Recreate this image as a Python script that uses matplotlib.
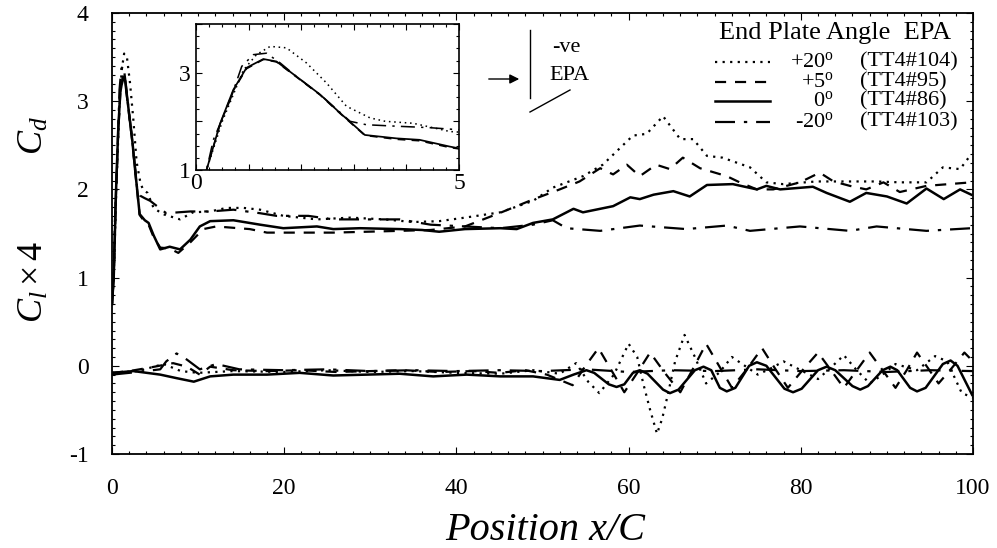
import matplotlib
matplotlib.use("Agg")
import matplotlib.pyplot as plt
from matplotlib.ticker import MultipleLocator
from matplotlib.lines import Line2D

plt.rcParams['font.family'] = ['Liberation Serif', 'DejaVu Serif']
plt.rcParams['mathtext.fontset'] = 'custom'
plt.rcParams['mathtext.rm'] = 'Liberation Serif'
plt.rcParams['mathtext.it'] = 'Liberation Serif:italic'
plt.rcParams['axes.unicode_minus'] = False

# ---------------- data ----------------
# Drag coefficient Cd
cd_x_p20 = [0, 0.2, 0.5, 0.9, 1.15, 1.41, 1.72, 2.1, 2.48, 2.86, 3.31, 3.6, 4.13, 4.83, 5.9, 7.9, 9.4,
            11.4, 13.3, 15.3, 17.2, 19.9, 23.8, 27.7, 31.6, 35, 38, 41, 45.1, 48.9, 51.2, 54.7, 57.0,
            60.5, 62.1, 64.0, 66.0, 67.5, 69.1, 70.9, 74.1, 76.0, 77.9, 81.8, 84.9, 88.8, 91.5, 94.6,
            96.5, 98.5, 99.8]
cd_p20 = [0.7, 1.0, 2.0, 3.05, 3.37, 3.54, 3.51, 3.2, 2.79, 2.31, 2.07, 2.0, 1.96, 1.79, 1.72, 1.66, 1.74,
          1.75, 1.79, 1.79, 1.77, 1.70, 1.66, 1.68, 1.66, 1.63, 1.64, 1.68, 1.74, 1.87, 2.02, 2.15, 2.28,
          2.61, 2.63, 2.83, 2.57, 2.57, 2.38, 2.36, 2.25, 2.08, 2.06, 2.09, 2.09, 2.09, 2.08, 2.08,
          2.25, 2.23, 2.40]

cd_x_p5 = [0, 0.2, 0.46, 0.71, 0.96, 1.28, 1.53, 1.91, 2.36, 2.74, 3.21, 3.81, 4.25, 4.83, 5.6, 6.7, 7.7,
           9.1, 10.6, 12.1, 16.0, 18.0, 21.8, 25.7, 29.6, 33.4, 37, 41, 45.1, 48.9, 52.0, 54.3, 56.7,
           58.2, 59.8, 61.3, 63.2, 64.8, 66.3, 68.3, 71.4, 72.9, 74.9, 76.8, 79.9, 82.2, 83.8, 85.7,
           87.6, 89.6, 91.5, 94.6, 99.8]
cd_p5 = [0.7, 1.0, 1.95, 2.63, 3.08, 3.27, 3.22, 2.91, 2.54, 2.16, 1.71, 1.63, 1.60, 1.46, 1.34, 1.33, 1.28,
         1.40, 1.55, 1.58, 1.55, 1.51, 1.51, 1.51, 1.52, 1.53, 1.54, 1.58, 1.735, 1.886, 2.0, 2.09, 2.24,
         2.17, 2.28, 2.15, 2.28, 2.23, 2.36, 2.24, 2.15, 2.08, 2.0, 2.0, 2.08, 2.19, 2.09, 2.04,
         2.0, 2.08, 1.97, 2.04, 2.08]

cd_x_0 = [0, 0.2, 0.46, 0.71, 0.96, 1.28, 1.53, 1.91, 2.36, 2.74, 3.21, 3.81, 4.25, 4.83, 5.6, 6.7, 7.9,
          9.1, 10.2, 11.4, 14.1, 17.2, 19.9, 23.8, 25.7, 28.8, 33.4, 36, 38, 41, 45.1, 47.0, 48.9, 51.2,
          53.6, 54.7, 58.2, 60.2, 61.3, 62.9, 65.2, 67.1, 69.1, 72.1, 74.9, 76.0, 77.6, 81.4, 83.0,
          85.7, 87.6, 90.0, 92.3, 94.6, 96.6, 98.5, 99.8]
cd_0 = [0.7, 1.0, 1.96, 2.65, 3.10, 3.28, 3.23, 2.92, 2.55, 2.17, 1.72, 1.65, 1.62, 1.48, 1.32, 1.35, 1.32,
        1.43, 1.58, 1.64, 1.65, 1.60, 1.56, 1.58, 1.55, 1.56, 1.55, 1.54, 1.52, 1.55, 1.56, 1.55, 1.62, 1.66,
        1.78, 1.74, 1.81, 1.91, 1.89, 1.94, 1.98, 1.92, 2.05, 2.06, 2.0, 2.04, 2.0, 2.03, 1.96,
        1.86, 1.96, 1.92, 1.84, 2.01, 1.89, 2.0, 1.94]

cd_x_m20 = [0, 0.2, 0.33, 0.65, 0.87, 1.09, 1.34, 1.6, 1.91, 2.36, 2.93, 3.24, 3.81, 4.44, 4.83, 6.3, 9.1,
            11.4, 14.1, 17.2, 19.1, 22.8, 25.7, 29.6, 33.4, 37, 41, 45.1, 48.9, 51.2, 52.8, 56.7, 61.3,
            66.7, 71.4, 74.1, 79.9, 85.7, 88.8, 94.6, 99.8]
cd_m20 = [0.7, 1.0, 1.62, 2.44, 3.13, 3.37, 3.40, 3.2, 2.92, 2.55, 2.0, 1.93, 1.90, 1.87, 1.84, 1.73, 1.75,
          1.75, 1.77, 1.73, 1.70, 1.70, 1.66, 1.66, 1.66, 1.60, 1.58, 1.56, 1.60, 1.65, 1.56, 1.53, 1.59,
          1.55, 1.59, 1.53, 1.58, 1.53, 1.58, 1.53, 1.56]

# Lift coefficient x 4
cl_x_p20 = [0, 3, 6.0, 8, 10, 14, 20, 25, 30, 35, 40, 45.1, 48.9, 52.0, 53.9, 55.3, 56.6, 58.3, 60, 61.0,
            61.7, 62.5, 63.3, 63.9, 64.5, 65.4, 66.5, 67.7, 69, 70.5, 72, 73.5, 75, 76.5, 78, 80, 82,
            83.5, 85, 86.5, 88, 89.5, 91, 93.5, 95.6, 97, 98.7, 100]
cl_p20 = [-0.08, -0.06, 0.02, -0.06, -0.08, -0.06, -0.07, -0.05, -0.07, -0.06, -0.08, -0.09, -0.05, -0.09,
          0.03, -0.18, -0.31, -0.1, 0.25, 0.1, -0.2, -0.5, -0.77, -0.6, -0.35, 0.05, 0.35, 0.1, -0.2,
          -0.08, 0.1, 0.0, -0.1, -0.03, 0.05, -0.05, -0.15, -0.02, 0.12, -0.05, -0.2, -0.1, 0.02, -0.05,
          0.11, 0.05, -0.31, -0.36]

cl_x_p5 = [0, 2, 4.4, 7.1, 8.7, 10.2, 11.4, 14.1, 18, 22, 26, 30, 34, 38, 42, 45, 48, 50.5, 53.5, 55.0,
           56.5, 58.0, 59.5, 61.0, 62.5, 64.2, 66, 67.5, 69, 70.5, 72, 73.8, 75.5, 77.0, 78.5, 80.2, 82,
           83.5, 85, 86.5, 88, 89.5, 91, 92.3, 93.5, 94.8, 96, 97.5, 99, 100]
cl_p5 = [-0.08, -0.06, -0.02, 0.03, -0.01, -0.10, -0.01, -0.05, -0.06, -0.05, -0.07, -0.06, -0.05, -0.07,
         -0.06, -0.08, -0.05, -0.1, -0.22, 0.0, 0.2, -0.05, -0.3, -0.08, 0.15, -0.08, -0.3, -0.03, 0.25,
         0.0, -0.25, -0.03, 0.2, -0.03, -0.25, -0.05, 0.15, -0.05, -0.25, -0.05, 0.15, -0.05, -0.25,
         -0.05, 0.15, -0.03, -0.2, -0.03, 0.15, 0.05]

cl_x_0 = [0, 2.5, 5.6, 7.5, 9.5, 11.4, 14.1, 18.0, 21.8, 25.7, 29.6, 33.4, 37.3, 41.2, 45.1, 48.9, 52.0,
          53.6, 55.1, 56.0, 57.7, 58.6, 59.5, 60.5, 61.3, 62.2, 64.0, 64.8, 65.8, 67.7, 68.7, 69.6, 70.6,
          71.4, 72.4, 74.0, 74.9, 76.0, 78.1, 79.1, 80.1, 82.0, 83.0, 84.0, 86.0, 86.9, 87.8, 89.5,
          90.4, 91.2, 92.7, 93.5, 94.5, 96.5, 97.4, 98.2, 99.9]
cl_0 = [-0.08, -0.06, -0.10, -0.14, -0.18, -0.12, -0.10, -0.10, -0.08, -0.11, -0.10, -0.09, -0.12, -0.10,
        -0.12, -0.12, -0.16, -0.10, -0.05, -0.08, -0.21, -0.24, -0.21, -0.08, -0.05, -0.09, -0.27, -0.31,
        -0.27, -0.05, -0.01, -0.05, -0.25, -0.29, -0.25, 0.0, 0.04, 0.0, -0.26, -0.30, -0.26, -0.05,
        -0.01, -0.05, -0.23, -0.27, -0.23, -0.05, -0.01, -0.05, -0.25, -0.29, -0.25, 0.02, 0.06, 0.0,
        -0.33]

cl_x_m20 = [0, 3, 5.6, 6.3, 7.5, 8.7, 10.2, 12.1, 14.8, 20, 25, 30, 35, 40, 45, 50, 55, 60, 65, 70, 75, 80,
            85, 90, 95, 100]
cl_m20 = [-0.1, -0.07, -0.04, 0.05, 0.14, 0.07, -0.04, 0.02, -0.04, -0.05, -0.04, -0.06, -0.05, -0.06,
          -0.05, -0.06, -0.04, -0.07, -0.05, -0.06, -0.04, -0.06, -0.05, -0.07, -0.05, -0.06]

labels_angle = ['+20$^{\\mathrm{o}}$', '+5$^{\\mathrm{o}}$', '0$^{\\mathrm{o}}$', '-20$^{\\mathrm{o}}$']
labels_run = ['(TT4#104)', '(TT4#95)', '(TT4#86)', '(TT4#103)']

# ---------------- styles ----------------
styles = [
    dict(color='black', lw=1.6, ls=(0, (1, 2.4))),
    dict(color='black', lw=1.6, ls=(0, (5, 4))),
    dict(color='black', lw=1.8, ls='-'),
    dict(color='black', lw=1.6, ls=(0, (9, 4, 1.5, 4))),
]

W, H = 997, 548
fig = plt.figure(figsize=(W / 100, H / 100), dpi=100)
ax = fig.add_axes([112 / W, 1 - 454 / H, (973 - 112) / W, (454 - 13) / H])

series_cd = [(cd_x_p20, cd_p20), (cd_x_p5, cd_p5), (cd_x_0, cd_0), (cd_x_m20, cd_m20)]
series_cl = [(cl_x_p20, cl_p20), (cl_x_p5, cl_p5), (cl_x_0, cl_0), (cl_x_m20, cl_m20)]
for (xs, ys), st in zip(series_cd, styles):
    ax.plot(xs, ys, **st)
for (xs, ys), st in zip(series_cl, styles):
    ax.plot(xs, ys, **st)

ax.set_xlim(0, 100)
ax.set_ylim(-1, 4)
ax.xaxis.set_major_locator(MultipleLocator(20))
ax.xaxis.set_minor_locator(MultipleLocator(2))
ax.yaxis.set_major_locator(MultipleLocator(1))
ax.yaxis.set_minor_locator(MultipleLocator(0.1))
ax.tick_params(which='both', direction='in', top=True, right=True, width=0.8)
ax.tick_params(which='major', length=5)
ax.tick_params(which='minor', length=2.5)
ax.tick_params(axis='x', which='major', labelsize=17, pad=17)
ax.tick_params(axis='y', which='major', labelsize=17, pad=17)
for sp in ax.spines.values():
    sp.set_linewidth(1.3)

fig.text(545 / W, 1 - 530 / H, 'Position x/C', fontsize=29, style='italic', ha='center', va='center')
fig.text(34 / W, 1 - 282 / H, r'$C_l\times 4$', fontsize=26, rotation=90, ha='center', va='center')
fig.text(34 / W, 1 - 136 / H, r'$C_d$', fontsize=26, rotation=90, ha='center', va='center')

# legend (manual)
def ax_x(px):
    return (px - 112) / 861

def ax_y(py):
    return (454 - py) / 441

ax.text(ax_x(835), ax_y(33), 'End Plate Angle  EPA', transform=ax.transAxes, fontsize=19,
        ha='center', va='center')
rows = [62, 82, 101, 122]
for st, la, lr, ry in zip(styles, labels_angle, labels_run, rows):
    ax.add_line(Line2D([ax_x(715), ax_x(770)], [ax_y(ry), ax_y(ry)], transform=ax.transAxes, **st))
    ax.text(ax_x(834), ax_y(ry), la, transform=ax.transAxes, fontsize=16, ha='right', va='center')
    ax.text(ax_x(860), ax_y(ry), lr, transform=ax.transAxes, fontsize=16, ha='left', va='center')

# EPA sketch
ax.annotate('', xy=(ax_x(522), ax_y(79)), xytext=(ax_x(486), ax_y(79)), xycoords='axes fraction',
            arrowprops=dict(arrowstyle='-|>', color='black', lw=1.0, mutation_scale=14))
ax.add_line(Line2D([ax_x(530), ax_x(530)], [ax_y(30), ax_y(98)], transform=ax.transAxes, color='black', lw=1.0))
ax.add_line(Line2D([ax_x(530), ax_x(570)], [ax_y(112), ax_y(90)], transform=ax.transAxes, color='black', lw=1.0))
ax.text(ax_x(552), ax_y(47), '-ve', transform=ax.transAxes, fontsize=16, ha='left', va='center')
ax.text(ax_x(549), ax_y(75), 'EPA', transform=ax.transAxes, fontsize=16, ha='left', va='center')

# inset
axi = fig.add_axes([196 / W, 1 - 170 / H, (459 - 196) / W, (170 - 24) / H])
for (xs, ys), st in zip(series_cd, styles):
    axi.plot(xs, ys, **dict(st, lw=st['lw'] * 0.7))
axi.set_xlim(0, 5)
axi.set_ylim(1, 4)
axi.set_xticks([0, 1, 2, 3, 4, 5])
axi.set_xticklabels(['0', '', '', '', '', '5'])
axi.set_yticks([1, 2, 3, 4])
axi.set_yticklabels(['1', '', '3', ''])
axi.xaxis.set_minor_locator(MultipleLocator(0.25))
axi.yaxis.set_minor_locator(MultipleLocator(0.25))
axi.tick_params(which='both', direction='in', top=True, right=True, width=0.8)
axi.tick_params(which='major', length=4, labelsize=17)
axi.tick_params(which='minor', length=2)
axi.tick_params(axis='x', pad=2)
axi.tick_params(axis='y', pad=4)
for sp in axi.spines.values():
    sp.set_linewidth(1.2)

fig.savefig('out.png', dpi=100)
